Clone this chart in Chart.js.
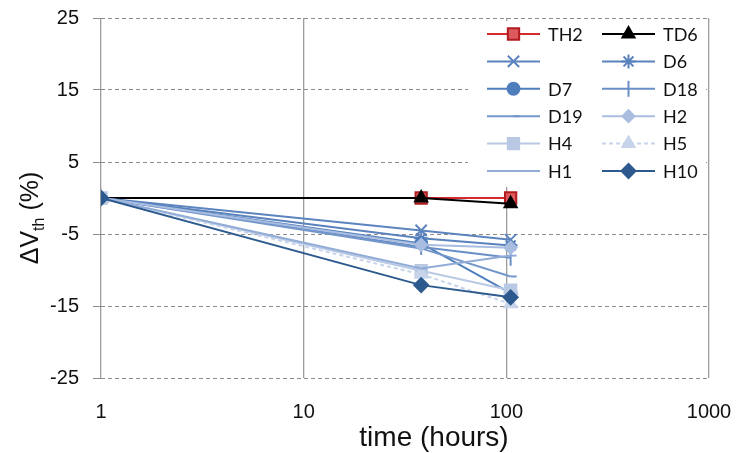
<!DOCTYPE html>
<html>
<head>
<meta charset="utf-8">
<script src="https://cdn.jsdelivr.net/npm/chart.js@4.4.0/dist/chart.umd.min.js"></script>
<style>
  html, body { margin: 0; padding: 0; background: #fff; }
  #wrap { width: 736px; height: 453px; }
</style>
</head>
<body>
<div id="wrap"><canvas id="chart" width="736" height="453"></canvas></div>
<script>
// time axis (hours) and y ticks
const hours = [1, 38, 105];
const xTicks = [1, 10, 100, 1000];

// delta Vth (%) per sample
const th2 = [null, 0, 0];
const td6 = [0, 0, -0.8];
const unnamed = [0, -4.5, -5.8];
const d6 = [0, -5.6, -6.6];
const d7 = [0, -6.3, -13.2];
const d18 = [0, -6.8, -8.3];
const d19 = [0, -7.0, -10.9];
const h2 = [0, -6.5, -6.9];
const h4 = [0, -10.1, -12.8];
const h5 = [0, -10.6, -14.7];
const h1 = [0, -9.8, -8.0];
const h10 = [0, -12.1, -13.8];

const names = ['TH2', 'TD6', '', 'D6', 'D7', 'D18', 'D19', 'H2', 'H4', 'H5', 'H1', 'H10'];
const values = [th2, td6, unnamed, d6, d7, d18, d19, h2, h4, h5, h1, h10];

// looks for each series
const looks = [
  { line: '#d42a2f', fill: '#dc5a5e', edge: '#b01c20', style: 'rect', r: 8 },
  { line: '#000000', fill: '#000000', edge: '#000000', style: 'triangle', r: 7 },
  { line: '#5c84bf', fill: '#5c84bf', edge: '#5c84bf', style: 'crossRot', r: 8 },
  { line: '#5a82bd', fill: '#5a82bd', edge: '#5a82bd', style: 'star', r: 7 },
  { line: '#4f7ebd', fill: '#4f7ebd', edge: '#4f7ebd', style: 'circle', r: 6 },
  { line: '#6a8fc6', fill: '#6a8fc6', edge: '#6a8fc6', style: 'line', r: 8, rot: 90 },
  { line: '#7497cb', fill: '#7497cb', edge: '#7497cb', style: 'dash', r: 6 },
  { line: '#a9bde0', fill: '#a9bde0', edge: '#a9bde0', style: 'rectRot', r: 6 },
  { line: '#b9c9e4', fill: '#b9c9e4', edge: '#b9c9e4', style: 'rect', r: 8 },
  { line: '#c8d4ea', fill: '#c8d4ea', edge: '#c8d4ea', style: 'triangle', r: 7, dash: [4, 3] },
  { line: '#92acd8', fill: '#92acd8', edge: '#92acd8', style: 'dash', r: 6 },
  { line: '#2d5a8e', fill: '#2d5a8e', edge: '#2d5a8e', style: 'rectRot', r: 7 }
];

const datasets = names.map((name, i) => ({
  label: name,
  data: hours.map((h, j) => ({ x: h, y: values[i][j] })),
  borderColor: looks[i].line,
  backgroundColor: looks[i].fill,
  pointBorderColor: looks[i].edge,
  pointBackgroundColor: looks[i].fill,
  pointStyle: looks[i].style,
  pointRadius: looks[i].r,
  pointRotation: looks[i].rot || 0,
  pointBorderWidth: 2,
  borderWidth: 2,
  borderDash: looks[i].dash || [],
  spanGaps: false,
  order: names.length - i
}));

// legend drawn inside the plot, two columns
const boxLegend = {
  id: 'boxLegend',
  afterDraw(chart) {
    const ctx = chart.ctx;
    ctx.save();
    ctx.fillStyle = '#ffffff';
    ctx.fillRect(468, 21, 238, 166);
    ctx.font = '18px Lato, "Liberation Sans", sans-serif';
    ctx.textBaseline = 'middle';
    datasets.forEach((ds, i) => {
      const col = i % 2;
      const row = Math.floor(i / 2);
      const x0 = col === 0 ? 487 : 602;
      const x1 = x0 + 53;
      const y = 34 + row * 27.4;
      ctx.strokeStyle = ds.borderColor;
      ctx.lineWidth = 2;
      ctx.setLineDash(ds.borderDash);
      ctx.beginPath();
      ctx.moveTo(x0, y);
      ctx.lineTo(x1, y);
      ctx.stroke();
      ctx.setLineDash([]);
      ctx.fillStyle = ds.pointBackgroundColor;
      ctx.strokeStyle = ds.pointBorderColor;
      Chart.helpers.drawPoint(ctx, {
        pointStyle: ds.pointStyle,
        radius: ds.pointRadius,
        rotation: ds.pointRotation,
        borderWidth: 2
      }, (x0 + x1) / 2, y);
      ctx.fillStyle = '#111111';
      ctx.fillText(ds.label, x1 + 8, y + 1);
    });
    ctx.restore();
  }
};

// axis titles, with the subscript on V
const axisTitles = {
  id: 'axisTitles',
  afterDraw(chart) {
    const ctx = chart.ctx;
    ctx.save();
    ctx.fillStyle = '#111111';
    ctx.textBaseline = 'alphabetic';
    ctx.textAlign = 'center';
    ctx.font = '28px "Liberation Sans", Arial, sans-serif';
    ctx.fillText('time (hours)', 434, 446);

    ctx.translate(38, 218);
    ctx.rotate(-Math.PI / 2);
    const big = '25px "Liberation Sans", Arial, sans-serif';
    const small = '16px "Liberation Sans", Arial, sans-serif';
    ctx.font = big;
    const w1 = ctx.measureText('\u0394V').width;
    const w3 = ctx.measureText(' (%)').width;
    ctx.font = small;
    const w2 = ctx.measureText('th').width;
    let x = -(w1 + w2 + w3) / 2;
    ctx.textAlign = 'left';
    ctx.font = big;
    ctx.fillText('\u0394V', x, 0);
    x += w1;
    ctx.font = small;
    ctx.fillText('th', x, 6);
    x += w2;
    ctx.font = big;
    ctx.fillText(' (%)', x, 0);
    ctx.restore();
  }
};

new Chart(document.getElementById('chart').getContext('2d'), {
  type: 'line',
  data: { datasets: datasets },
  plugins: [boxLegend, axisTitles],
  options: {
    responsive: false,
    animation: false,
    layout: { padding: { top: 18, right: 27, left: 0, bottom: 0 } },
    plugins: {
      legend: { display: false },
      tooltip: { enabled: false }
    },
    scales: {
      x: {
        type: 'logarithmic',
        min: 1,
        max: 1000,
        afterBuildTicks: (scale) => {
          scale.ticks = xTicks.map(v => ({ value: v }));
        },
        afterFit: (scale) => {
          scale.height = 75;
          scale.paddingLeft = 0;
          scale.paddingRight = 0;
        },
        ticks: {
          callback: (v) => String(v),
          color: '#111111',
          font: { size: 20, family: '"Liberation Sans", Arial, sans-serif' },
          padding: 22,
          maxRotation: 0
        },
        grid: { color: '#9c9c9c', lineWidth: 1.3, drawTicks: false },
        border: { display: false }
      },
      y: {
        min: -25,
        max: 25,
        afterFit: (scale) => {
          scale.width = 101;
          scale.paddingTop = 0;
          scale.paddingBottom = 0;
        },
        ticks: {
          stepSize: 10,
          color: '#111111',
          font: { size: 20, family: '"Liberation Sans", Arial, sans-serif' },
          padding: 14
        },
        grid: { color: '#8c8c8c', lineWidth: 1, tickLength: 8 },
        border: { display: false, dash: [4, 3] }
      }
    }
  }
});
</script>
</body>
</html>
